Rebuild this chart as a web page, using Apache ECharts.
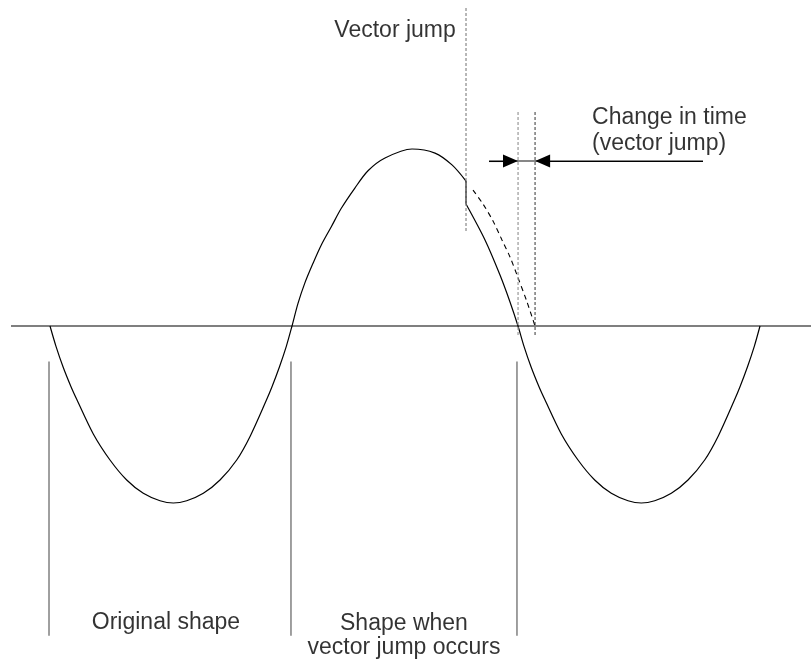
<!DOCTYPE html>
<html>
<head>
<meta charset="utf-8">
<script src="https://cdn.jsdelivr.net/npm/echarts@6/dist/echarts.min.js"></script>
<style>
html,body{margin:0;padding:0;background:#fff;}
#chart{width:811px;height:664px;}
</style>
</head>
<body>
<div id="chart"></div>
<script>
// x = phase (degrees), y = normalised amplitude
const originalWave = [
  [0, 0], [4.44, -0.115], [9.63, -0.230], [15.56, -0.343], [19.78, -0.414],
  [32.07, -0.610], [44.44, -0.757], [56.81, -0.870], [69.11, -0.945], [81.48, -0.987],
  [91.33, -1.0], [101.26, -0.987], [113.56, -0.945], [125.93, -0.870], [138.30, -0.757],
  [148.37, -0.621], [160.0, -0.424], [164.44, -0.343], [170.0, -0.230], [175.04, -0.115],
  [179.26, 0], [183.70, 0.128], [188.67, 0.241], [194.81, 0.354], [200.96, 0.458],
  [208.37, 0.561], [215.78, 0.665], [225.70, 0.778], [235.56, 0.877], [248.15, 0.949],
  [268.15, 1.0], [285.19, 0.977], [297.78, 0.910], [308.15, 0.819]
];
const jumpStep = [[308.15, 0.819], [308.15, 0.689]];
const jumpedWave = [
  [308.15, 0.689], [322.22, 0.486], [333.33, 0.288], [340.74, 0.136], [346.67, 0],
  [351.11, -0.115], [356.30, -0.230], [362.22, -0.343], [366.44, -0.414], [378.74, -0.610],
  [391.11, -0.757], [403.48, -0.870], [415.78, -0.945], [428.15, -0.987], [438.0, -1.0],
  [447.93, -0.987], [460.22, -0.945], [472.59, -0.870], [484.96, -0.757], [495.04, -0.621],
  [506.67, -0.424], [511.11, -0.343], [516.67, -0.230], [521.70, -0.115], [525.93, 0]
];
const continuedWave = [
  [313.33, 0.768], [320.74, 0.689], [328.15, 0.593], [334.81, 0.486],
  [340.74, 0.390], [345.93, 0.288], [353.33, 0.136], [359.26, 0]
];
const baseLine = [[-28.9, 0], [563.7, 0]];
const sectionX = [-0.74, 178.5, 345.9];
const sectionY = [-0.20, -1.75];
const jumpMarkerX = 308.15;
const jumpMarkerY = [1.797, 0.525];
const shiftX = [346.7, 359.3];
const shiftY = [1.209, -0.062];
const arrowY = 0.932;
const arrowLeftX = [325.2, 346.7];
const arrowRightX = [483.7, 359.3];
const labels = ['Vector jump', 'Change in time\n(vector jump)', 'Original shape', 'Shape when\nvector jump occurs'];

const FONT = '"Liberation Sans", Arial, Helvetica, sans-serif';
const chart = echarts.init(document.getElementById('chart'), null, {renderer: 'canvas'});

function seg(data, color, width, type) {
  return {
    type: 'line', data: data, symbol: 'none', silent: true, animation: false,
    lineStyle: {color: color, width: width, type: type || 'solid'}, z: 2
  };
}
function textPoint(x, y, text, align, lh) {
  return {
    type: 'scatter', data: [[x, y]], symbolSize: 0, silent: true, animation: false,
    label: {
      show: true, position: 'inside', formatter: text, color: '#000',
      fontFamily: FONT, fontSize: 23, align: align, verticalAlign: 'middle',
      lineHeight: lh || 26
    }
  };
}

const series = [];
series.push(seg(baseLine, '#000', 1.2));
series.push(Object.assign(seg(originalWave, '#000', 1.2), {smooth: 0.3}));
series.push(seg(jumpStep, '#000', 1.2));
series.push(Object.assign(seg(jumpedWave, '#000', 1.2), {smooth: 0.3}));
series.push(Object.assign(seg(continuedWave, '#000', 1.1, [5, 4]), {smooth: 0.3}));
sectionX.forEach(function (x) {
  series.push(seg([[x, sectionY[0]], [x, sectionY[1]]], '#777', 1.4));
});
series.push(seg([[jumpMarkerX, jumpMarkerY[0]], [jumpMarkerX, jumpMarkerY[1]]], '#888', 1.2, [3, 2]));
series.push(seg([[shiftX[0], shiftY[0]], [shiftX[0], shiftY[1]]], '#999', 1.2, [3, 2]));
series.push(seg([[shiftX[1], shiftY[0]], [shiftX[1], shiftY[1]]], '#333', 1, [3, 2]));
// arrow baseline and heads
const arrowLine = seg([[arrowLeftX[0], arrowY], [arrowRightX[0], arrowY]], '#111', 1.1);
// head tips sit at arrowLeftX[1] and arrowRightX[1]; symbol centres offset by half head length (7.5px = 5.6 deg)
arrowLine.markLine = {
  silent: true, animation: false,
  lineStyle: {color: '#000', width: 1.1, type: 'solid'},
  label: {show: false},
  symbol: ['none', 'triangle'],
  symbolSize: [13, 15],
  data: [
    [{coord: [arrowLeftX[0], arrowY]}, {coord: [arrowLeftX[1] - 5.6, arrowY]}],
    [{coord: [arrowRightX[0], arrowY]}, {coord: [arrowRightX[1] + 5.6, arrowY]}]
  ]
};
series.push(arrowLine);

series.push(textPoint(255.6, 1.669, labels[0], 'center'));
series.push(textPoint(401.5, 1.104, labels[1], 'left', 26));
series.push(textPoint(85.9, -1.676, labels[2], 'center'));
series.push(textPoint(262.2, -1.749, labels[3], 'center', 24));

chart.setOption({
  backgroundColor: '#fff',
  animation: false,
  grid: {left: 0, right: 0, top: 0, bottom: 0, containLabel: false},
  xAxis: {type: 'value', min: -37.04, max: 563.70, show: false},
  yAxis: {type: 'value', min: -1.9096, max: 1.8418, show: false},
  series: series
});
</script>
</body>
</html>
